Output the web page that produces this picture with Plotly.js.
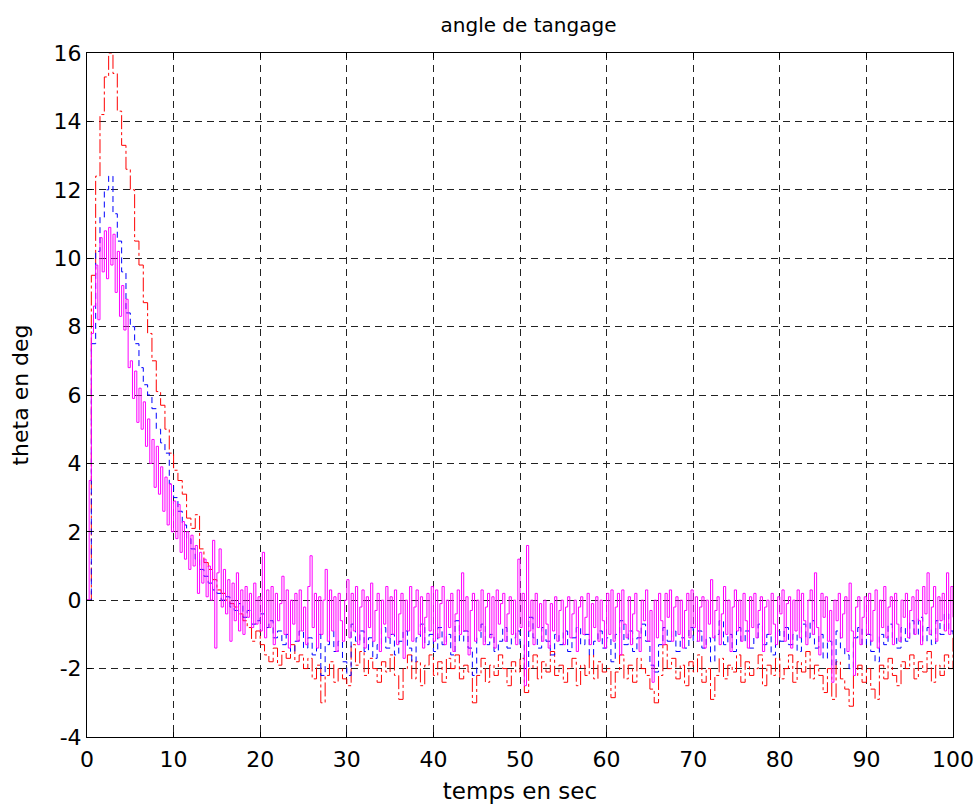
<!DOCTYPE html>
<html>
<head>
<meta charset="utf-8">
<script src="https://cdn.plot.ly/plotly-3.0.1.min.js"></script>
<style>
html,body{margin:0;padding:0;background:#fff;}
#chart{width:979px;height:807px;}
</style>
</head>
<body>
<div id="chart"></div>
<script>
// sampling steps (s)
const dtRB = 0.5;
const dtMag = 0.25;

// red series (theta, deg), t = 0..100 step 0.5
const redVals = [
 0, 9.5, 12.4, 14.2, 15.3, 16.0, 15.4, 14.3, 13.3, 12.6,
 12.0, 10.5, 9.8, 8.7, 7.8, 7.0, 6.1, 5.7, 5.0, 4.3,
 3.8, 3.5, 3.1, 2.4, 2.1, 2.5, 1.5, 1.1, 0.9, 0.6,
 0.3, 0.2, 0.0, -0.1, -0.2, -0.4, -0.6, -0.8, -1.2, -0.9,
 -1.3, -1.6, -1.8, -1.4, -1.9, -1.5, -1.7, -1.3, -1.8, -1.6,
 -2.0, -1.7, -2.3, -1.9, -3.0, -2.2, -1.8, -2.4, -2.0, -2.3,
 -2.5,
 -1.3, -1.9, -1.5, -2.2, -1.7, -2.0, -2.4, -1.8, -2.1, -1.6,
 -2.2, -2.9, -2.0, -1.6, -2.3, -1.8, -2.5, -1.9, -1.6, -2.2,
 -1.8, -2.4, -1.7, -2.0, -1.6, -2.3, -1.9, -2.1, -3.0, -2.2,
 -1.7, -2.4, -1.9, -2.2, -1.6, -2.0, -2.5, -1.8, -2.1, -1.7,
 -2.7, -2.0, -1.6, -2.3, -1.8, -2.1, -1.5, -2.2, -1.9, -2.4,
 -2.0, -1.7, -2.5, -1.9, -2.2, -1.6, -2.3, -1.8, -2.1, -2.0,
 -2.85, -2.1, -1.6, -2.3, -1.9, -2.4, -1.7, -2.0, -2.2, -2.6,
 -3.0, -2.2, -1.3, -2.0, -1.7, -2.3, -1.9, -2.5, -1.8, -2.1,
 -1.6, -2.4, -2.0, -2.9, -2.2, -1.7, -2.3, -1.9, -2.1, -1.6,
 -2.4, -1.8, -2.2, -2.0, -1.6, -2.5, -1.9, -2.2, -1.7, -2.3,
 -2.0, -1.6, -2.4, -1.8, -2.1, -1.5, -2.3, -1.9, -2.2, -2.7,
 -2.0, -2.9, -1.8, -2.3, -2.6, -3.1, -2.2, -1.9, -2.4, -2.0,
 -2.6, -2.9, -1.9, -2.3, -1.7, -2.2, -2.5, -1.8, -2.0, -1.6,
 -2.3, -1.8, -2.1, -1.5, -2.4, -1.9, -2.2, -1.6, -2.0, -1.1
];

// blue series, t = 0..100 step 0.5
const blueVals = [
 0, 7.5, 10.2, 11.2, 12.0, 12.4, 11.3, 10.5, 9.6, 8.4,
 8.0, 7.5, 6.8, 6.3, 6.0, 5.6, 5.0, 4.6, 4.3, 3.4,
 3.0, 2.6, 2.2, 1.8, 1.5, 1.2, 0.9, 0.7, 0.5, 0.3,
 0.2, 0.0, 0.1, -0.2, -0.3, -0.1, -0.5, -0.3, -0.7, -0.6,
 -0.4, -0.8, -0.6, -1.1, -0.9, -1.3, -1.0, -1.5, -1.2, -0.9,
 -1.4, -1.1, -1.6, -1.0, -2.2, -1.3, -0.9, -1.5, -1.2, -1.8,
 -2.2,
 -0.7, -1.2, -0.9, -1.5, -1.1, -1.7, -1.3, -0.8, -1.4, -1.0,
 -1.6, -1.2, -0.9, -1.4, -1.8, -1.1, -0.7, -1.3, -1.0, -1.5,
 -0.8, -1.3, -1.0, -1.6, -0.6, -1.2, -0.9, -1.4, -2.2, -1.1,
 -0.7, -1.3, -1.0, -1.5, -1.2, -0.8, -1.4, -1.1, -0.9, -1.3,
 -2.0, -0.5, -1.1, -1.4, -0.8, -1.2, -1.6, -1.0, -1.3, -0.9,
 -1.5, -1.1, -0.8, -1.3, -1.0, -1.6, -1.2, -0.9, -1.4, -1.1,
 -1.8, -1.0, -0.6, -1.3, -0.9, -1.5, -1.1, -0.7, -1.2, -1.9,
 -2.1, -1.3, -0.8, -1.2, -0.9, -1.5, -1.1, -1.4, -0.8, -1.2,
 -0.9, -1.4, -1.1, -1.8, -1.0, -0.6, -1.3, -1.0, -1.5, -0.8,
 -1.2, -0.9, -1.4, -1.1, -0.7, -1.3, -1.0, -1.6, -0.9, -1.2,
 -0.8, -1.3, -1.0, -1.5, -0.7, -1.1, -0.6, -1.4, -1.0, -1.7,
 -1.2, -1.9, -0.9, -1.4, -1.6, -2.0, -1.1, -0.8, -1.3, -1.0,
 -1.5, -1.8, -1.0, -1.3, -0.7, -1.1, -1.4, -0.8, -1.2, -0.6,
 -1.0, -0.5, -1.2, -0.8, -1.3, -0.6, -1.0, -0.4, -0.9, -1.0
];

// magenta series, t = 0..100 step 0.25
const magVals = [
 0, 3.5, 7.8, 8.6, 9.8, 8.2, 10.6, 9.6, 10.8, 9.4,
 10.9, 9.8, 10.7, 9.0, 10.2, 8.3, 9.2, 7.9, 8.8, 6.8,
 7.0, 5.9, 6.7, 5.2, 6.2, 5.0, 5.8, 4.5, 5.3, 4.0,
 4.7, 3.3, 4.5, 3.1, 3.9, 2.6, 3.6, 2.2, 3.4, 2.0,
 2.9,
 1.8, 2.8, 1.4, 2.3, 1.2, 2.0, 0.9, 1.9, 1.0, 1.6,
 0.2, 1.4, 0.5, 1.2, 0.1, 1.0, 0.0, 1.75, -1.4, 0.8,
 1.5, -0.2, 0.9, -0.4, 0.6, -1.2, 0.5, -0.6, 0.8, -0.9,
 0.3, -1.0, 0.4, -0.5, 0.2, -0.8, 0.5, -0.7, 0.1, -0.9,
 1.4, -1.1, 0.3, -0.8, 0.4, -1.3, 0.2, -0.6, -0.1, 0.7,
 -1.0, 0.3, -1.4, 0.0, -0.7, 0.2, -1.2, 0.3, -0.9, -0.2,
 -1.3, 0.4, 1.3, -0.8, 0.2, -1.4, 0.1, -1.0, 0.0, 0.9,
 -1.2, 0.3, -0.9, 0.1, -1.5, 0.2, -0.6, -1.2, 0.0, 0.6,
 -1.1, 0.2, -0.9, 0.4, -1.3, -0.2, 0.3, -1.4, 0.1, -0.8, 0.5, -1.2, -0.3, 0.2, -1.5, 0.0, -0.7, 0.4, -1.1, 0.1,
 -1.0, 0.3, -1.3, -0.4, 0.2, -1.7, 0.0, -0.9, 0.4, -1.2, -0.2, 0.3, -1.0, 0.1, -1.4, -0.5, 0.2, -0.9, 0.4, -1.2,
 0.3, -1.1, -0.1, 0.4, -1.3, 0.0, -0.8, 0.2, -1.5, -0.4, 0.3, -1.0, 0.8, -0.9, 0.1, -1.6, -0.3, 0.2, -1.2, 0.0,
 -0.9, 0.3, -1.3, -0.2, 0.2, -1.1, 0.1, -1.4, 0.3, -0.7, -0.1, 0.2, -1.2, -0.4, 0.1, -1.0, 0.0, -1.3, 1.2, -0.8,
 0.2, -2.5, 1.6, -0.9, 0.0, -1.3, 0.2, -0.8, -0.1, -1.2, 0.0, -0.7, -1.4, -0.1, -0.9, 0.1, -1.2, -0.3, 0.0, -1.3,
 -0.2, 0.1, -1.1, -0.4, 0.0, -1.5, -0.2, 0.1, -1.0, -0.5, 0.2, -1.3, -0.1, -0.8, 0.1, -1.2, 0.0, -0.6, -1.4, 0.2,
 -1.0, 0.3, -1.2, -0.2, 0.2, -1.6, 0.3, -0.7, -1.1, 0.1, -1.3, -0.4, 0.2, -0.9, -1.5, 0.0, -0.6, 0.3, -1.2, -0.3,
 -2.4, 0.0, -1.1, 0.2, -0.6, -1.3, 0.2, -0.5, 0.3, -1.2, -0.2, 0.1, -1.0, 0.0, -1.4, -0.3, 0.2, -1.1, 0.3, -0.8,
 0.1, -1.2, -0.2, 0.1, -1.4, 0.0, -0.7, 0.6, -1.1, -0.3, 0.1, -1.3, -0.4, 0.4, -1.0, 0.0, -1.5, -0.2, 0.3, -0.9,
 0.0, -1.2, 0.2, -0.6, -1.4, 0.1, -0.8, 0.2, -1.1, -0.3, 0.1, -1.5, -0.2, 0.0, -1.0, 0.2, -0.7, -1.3, 0.1, -0.4,
 0.3, -1.2, -0.1, 0.1, -1.4, 0.0, -0.9, 0.3, -1.1, 0.2, -0.6, -1.3, 0.0, 0.3, -1.0, 0.8, -0.8, -1.6, 0.2, -0.5,
 0.1, -1.2, -0.3, -2.4, 0.0, -0.6, 0.2, -1.1, -0.4, 0.1, -1.5, 0.5, -0.9, -2.2, -0.2, 0.1, -1.3, -0.5, 0.1, -1.0,
 0.2, -1.2, -0.3, 0.3, -1.4, 0.0, -0.8, 0.4, -1.1, -0.2, 0.1, -1.3, 0.2, -0.7, -1.2, 0.0, -0.5, 0.2, -1.1, -0.3,
 0.1, -1.0, 0.3, -0.6, -1.3, 0.4, -0.4, 0.8, -1.0, -0.2, 0.4, -1.2, 0.1, -0.6, 0.2, -0.9, 0.8, -1.0, 0.4, -0.5
];

const xTicks = [0, 10, 20, 30, 40, 50, 60, 70, 80, 90, 100];
const yTicks = [-4, -2, 0, 2, 4, 6, 8, 10, 12, 14, 16];

function timeAxis(n, dt) { const t = []; for (let i = 0; i < n; i++) t.push(i * dt); return t; }

const traces = [
  {x: timeAxis(redVals.length, dtRB), y: redVals, type: 'scatter', mode: 'lines',
   line: {color: '#ff0000', width: 1, shape: 'hv', dash: '14px,3px,3px,3px'}, hoverinfo: 'skip'},
  {x: timeAxis(blueVals.length, dtRB), y: blueVals, type: 'scatter', mode: 'lines',
   line: {color: '#0000ff', width: 1, shape: 'hv', dash: '6px,4px'}, hoverinfo: 'skip'},
  {x: timeAxis(magVals.length, dtMag), y: magVals, type: 'scatter', mode: 'lines',
   line: {color: '#ff00ff', width: 1, shape: 'hv'}, hoverinfo: 'skip'}
];

const FONT = 'DejaVu Sans, Liberation Sans, Arial, sans-serif';

const axisCommon = {
  showline: true, linecolor: '#000', linewidth: 1, mirror: 'allticks',
  ticks: 'inside', ticklen: 5, tickcolor: '#000',
  showgrid: true, gridcolor: '#222', gridwidth: 1, griddash: '7px,5px',
  zeroline: false, tickfont: {family: FONT, size: 22, color: '#000'}
};

const layout = {
  width: 979, height: 807,
  margin: {l: 87, r: 26, t: 53, b: 70},
  paper_bgcolor: '#fff', plot_bgcolor: '#fff',
  showlegend: false,
  font: {family: FONT, color: '#000'},
  title: {text: 'angle de tangage', x: 0.5098, xanchor: 'center', xref: 'paper',
          y: 1 - 25 / 807, yref: 'container', yanchor: 'middle',
          font: {family: FONT, size: 20, color: '#000'}},
  xaxis: Object.assign({}, axisCommon, {
    range: [0, 100], tickvals: xTicks, ticktext: xTicks.map(String), ticklabelstandoff: 3,
    title: {text: 'temps en sec', font: {family: FONT, size: 23, color: '#000'}, standoff: 11}
  }),
  yaxis: Object.assign({}, axisCommon, {
    range: [-4, 16], tickvals: yTicks, ticktext: yTicks.map(String),
    title: {text: 'theta en deg', font: {family: FONT, size: 22, color: '#000'}, standoff: 18}
  })
};

Plotly.newPlot('chart', traces, layout, {displayModeBar: false, staticPlot: true});
</script>
</body>
</html>
